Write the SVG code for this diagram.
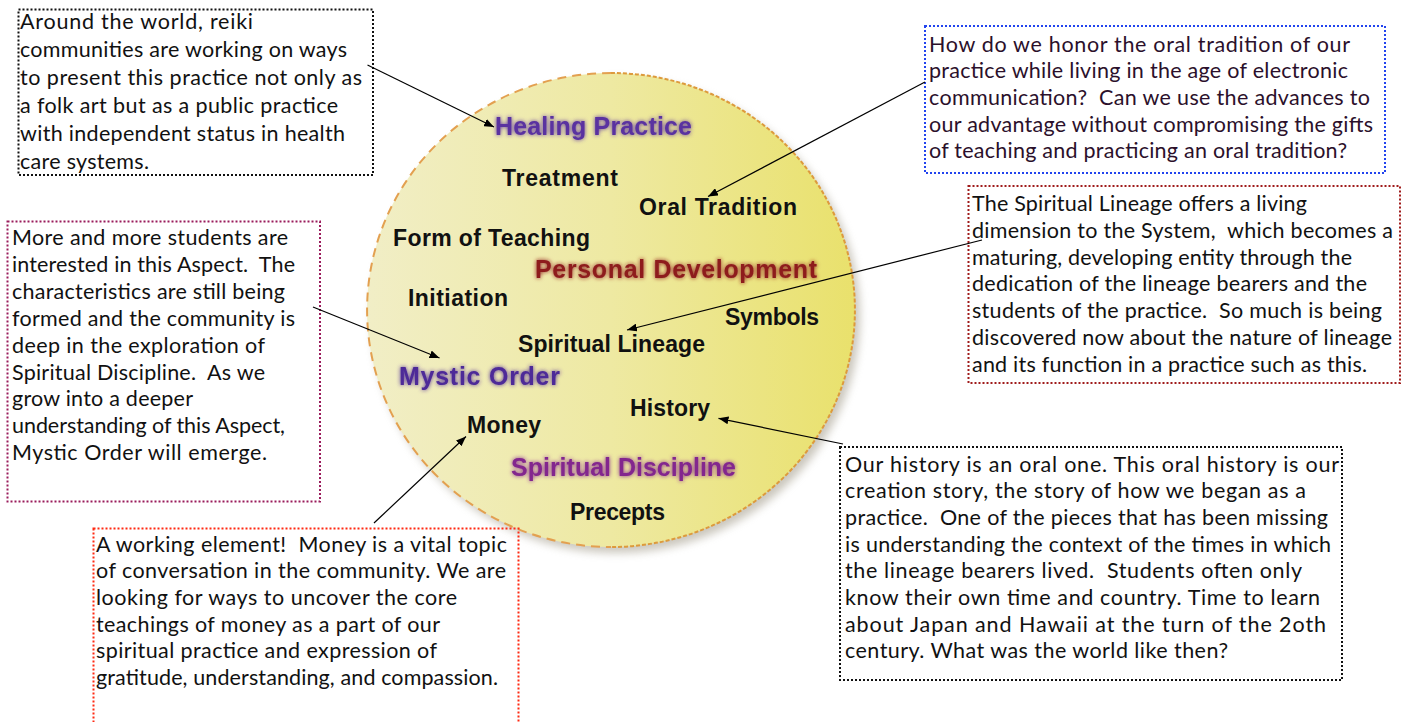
<svg xmlns="http://www.w3.org/2000/svg" width="1406" height="722" viewBox="0 0 1406 722">
<style>
.box{fill:none;stroke-width:2;stroke-dasharray:2 2}
.note{font-family:Lato,"Open Sans","Liberation Sans",sans-serif;font-size:21.5px;fill:#111}
.lbl{font-family:"Liberation Sans",Arial,sans-serif;font-weight:bold;font-size:23px;fill:#111}
.big{font-size:25px}
.glow{filter:url(#glow)}
.conn{stroke:#000;stroke-width:1.2;fill:none;marker-end:url(#arr)}
</style>
<defs>
<linearGradient id="disc" x1="0" y1="0" x2="1" y2="0">
<stop offset="0" stop-color="#f1eec6"/>
<stop offset="0.5" stop-color="#eee9a2"/>
<stop offset="1" stop-color="#e9e16c"/>
</linearGradient>
<filter id="shadow" x="-10%" y="-10%" width="130%" height="130%">
<feGaussianBlur stdDeviation="4"/>
</filter>
<filter id="glow" x="-10%" y="-40%" width="120%" height="180%">
<feGaussianBlur in="SourceGraphic" stdDeviation="2" result="b"/>
<feMerge><feMergeNode in="b"/><feMergeNode in="SourceGraphic"/></feMerge>
</filter>
<marker id="arr" markerUnits="userSpaceOnUse" markerWidth="10" markerHeight="8" refX="10" refY="4" orient="auto">
<path d="M0,0 L10,4 L0,8 z" fill="#000"/>
</marker>
</defs>
<rect width="1406" height="722" fill="#fff"/>

<g id="disc-node">
<ellipse cx="616" cy="316" rx="244" ry="237" fill="#a09a88" opacity="0.55" filter="url(#shadow)"/>
<ellipse cx="611" cy="310" rx="244" ry="237" fill="url(#disc)"/>
<path d="M611,73 A244,237 0 0 0 611,547" fill="none" stroke="#e3a050" stroke-width="2" stroke-dasharray="9 6"/>
<path d="M611,73 A244,237 0 0 1 611,547" fill="none" stroke="#dd9a3c" stroke-width="2" stroke-dasharray="4 2"/>
</g>

<g id="label-healing-practice"><text class="lbl big glow" x="495" y="135" textLength="197" style="fill:#5a32a0">Healing Practice</text></g>
<g id="label-treatment"><text class="lbl" x="502" y="186" textLength="116">Treatment</text></g>
<g id="label-oral-tradition"><text class="lbl" x="639" y="215" textLength="158">Oral Tradition</text></g>
<g id="label-form-of-teaching"><text class="lbl" x="393" y="246" textLength="197">Form of Teaching</text></g>
<g id="label-personal-development"><text class="lbl big glow" x="535" y="278" textLength="282" style="fill:#8e1c1e">Personal Development</text></g>
<g id="label-initiation"><text class="lbl" x="408" y="306" textLength="100">Initiation</text></g>
<g id="label-symbols"><text class="lbl" x="725" y="325" textLength="94">Symbols</text></g>
<g id="label-spiritual-lineage"><text class="lbl" x="518" y="352" textLength="187">Spiritual Lineage</text></g>
<g id="label-mystic-order"><text class="lbl big glow" x="399" y="385" textLength="161" style="fill:#4e2a98">Mystic Order</text></g>
<g id="label-history"><text class="lbl" x="630" y="416" textLength="80">History</text></g>
<g id="label-money"><text class="lbl" x="467" y="433" textLength="74">Money</text></g>
<g id="label-spiritual-discipline"><text class="lbl big glow" x="511" y="476" textLength="225" style="fill:#83288e">Spiritual Discipline</text></g>
<g id="label-precepts"><text class="lbl" x="570" y="520" textLength="95">Precepts</text></g>

<g id="note-healing">
<rect class="box" x="18.5" y="9.5" width="354.5" height="165.5" stroke="#111"/>
<text class="note" xml:space="preserve"><tspan x="20" y="29" textLength="233">Around the world, reiki</tspan><tspan x="20" y="57" textLength="327">communities are working on ways</tspan><tspan x="20" y="85" textLength="342">to present this practice not only as</tspan><tspan x="20" y="113" textLength="318">a folk art but as a public practice</tspan><tspan x="20" y="141" textLength="325">with independent status in health</tspan><tspan x="20" y="169" textLength="129">care systems.</tspan></text>
</g>

<g id="note-mystic">
<rect class="box" x="7.5" y="221.5" width="312.5" height="280" stroke="#9a1c5c"/>
<text class="note" xml:space="preserve"><tspan x="12" y="245" textLength="276">More and more students are</tspan><tspan x="12" y="272" textLength="283">interested in this Aspect.  The</tspan><tspan x="12" y="299" textLength="273">characteristics are still being</tspan><tspan x="12" y="326" textLength="283">formed and the community is</tspan><tspan x="12" y="352.5" textLength="253">deep in the exploration of</tspan><tspan x="12" y="379.5" textLength="253">Spiritual Discipline.  As we</tspan><tspan x="12" y="406" textLength="181">grow into a deeper</tspan><tspan x="12" y="433" textLength="273">understanding of this Aspect,</tspan><tspan x="12" y="460" textLength="255">Mystic Order will emerge.</tspan></text>
</g>

<g id="note-oral">
<rect class="box" x="925" y="26" width="460" height="147" stroke="#2244ee"/>
<text class="note" xml:space="preserve" style="fill:#2b102b"><tspan x="929" y="51.7" textLength="421">How do we honor the oral tradition of our</tspan><tspan x="929" y="78.3" textLength="419">practice while living in the age of electronic</tspan><tspan x="929" y="105" textLength="441">communication?  Can we use the advances to</tspan><tspan x="929" y="131.7" textLength="444">our advantage without compromising the gifts</tspan><tspan x="929" y="158.3" textLength="418">of teaching and practicing an oral tradition?</tspan></text>
</g>

<g id="note-lineage">
<rect class="box" x="968.5" y="186" width="431.5" height="197" stroke="#a01c1c"/>
<text class="note" xml:space="preserve"><tspan x="972" y="211" textLength="335">The Spiritual Lineage offers a living</tspan><tspan x="972" y="237.8" textLength="421">dimension to the System,  which becomes a</tspan><tspan x="972" y="264.6" textLength="380">maturing, developing entity through the</tspan><tspan x="972" y="291.4" textLength="395">dedication of the lineage bearers and the</tspan><tspan x="972" y="318.2" textLength="410">students of the practice.  So much is being</tspan><tspan x="972" y="345" textLength="420">discovered now about the nature of lineage</tspan><tspan x="972" y="371.8" textLength="395">and its function in a practice such as this.</tspan></text>
</g>

<g id="note-history">
<rect class="box" x="840" y="447" width="502" height="233" stroke="#111"/>
<text class="note" xml:space="preserve"><tspan x="845" y="471.7" textLength="494">Our history is an oral one. This oral history is our</tspan><tspan x="845" y="498.3" textLength="461">creation story, the story of how we began as a</tspan><tspan x="845" y="525" textLength="483">practice.  One of the pieces that has been missing</tspan><tspan x="845" y="551.7" textLength="486">is understanding the context of the times in which</tspan><tspan x="845" y="578.3" textLength="457">the lineage bearers lived.  Students often only</tspan><tspan x="845" y="605" textLength="475">know their own time and country. Time to learn</tspan><tspan x="845" y="631.7" textLength="481">about Japan and Hawaii at the turn of the 2oth</tspan><tspan x="845" y="658.3" textLength="383">century. What was the world like then?</tspan></text>
</g>

<g id="note-money">
<rect class="box" x="93.5" y="528.5" width="425" height="210" stroke="#ff2a12"/>
<text class="note" xml:space="preserve"><tspan x="96" y="551.7" textLength="411">A working element!  Money is a vital topic</tspan><tspan x="96" y="578.3" textLength="410">of conversation in the community. We are</tspan><tspan x="96" y="605" textLength="361">looking for ways to uncover the core</tspan><tspan x="96" y="631.7" textLength="344">teachings of money as a part of our</tspan><tspan x="96" y="658.3" textLength="341">spiritual practice and expression of</tspan><tspan x="96" y="685" textLength="402">gratitude, understanding, and compassion.</tspan></text>
</g>

<g id="connectors">
<line class="conn" x1="367.5" y1="65" x2="494" y2="127"/>
<line class="conn" x1="925" y1="82" x2="708" y2="196.5"/>
<line class="conn" x1="982" y1="240" x2="627" y2="330"/>
<line class="conn" x1="313" y1="307" x2="439.5" y2="358"/>
<line class="conn" x1="374" y1="523" x2="466" y2="436.5"/>
<line class="conn" x1="843" y1="444" x2="718.5" y2="418.3"/>
</g>
</svg>
